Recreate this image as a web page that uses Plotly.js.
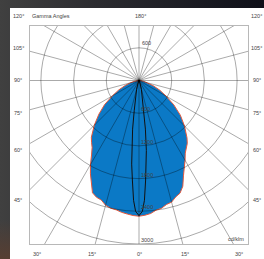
<!DOCTYPE html>
<html><head><meta charset="utf-8">
<script src="https://cdn.plot.ly/plotly-3.0.1.min.js"></script>
<style>
html,body{margin:0;padding:0;width:264px;height:259px;overflow:hidden;
  background:linear-gradient(180deg,rgba(0,0,0,0) 0%,rgba(0,0,0,0) 85%,rgba(90,62,48,0.9) 100%),linear-gradient(90deg,#404040 0%,#2c2c30 35%,#0f1019 100%);}
#chart{position:absolute;left:10px;top:8px;width:254px;height:251px;background:#fff;}
</style></head><body><div id="chart"></div>
<script>
// Gamma angles (deg, 0 = straight down, negative = left half) and intensity (cd/klm)
const gammaMain = [-90,-85,-80,-75,-70,-65,-60,-55,-50,-45,-40,-37.5,-35,-32.5,-30,-27.5,-25,-22.5,-20,-17.5,-15,-12.5,-10,-7.5,-5,-2.5,0,
  2.5,5,7.5,10,12.5,15,17.5,20,22.5,25,27.5,30,32.5,35,37.5,40,45,50,55,60,65,70,75,80,85,90];
const intensityMain = [0,30,80,160,270,410,565,770,960,1160,1360,1430,1500,1620,1780,1930,2060,2230,2280,2300,2370,2400,2410,2440,2460,2480,2490,
  2475,2450,2400,2380,2330,2310,2240,2200,2100,1930,1810,1690,1580,1510,1455,1370,1180,990,780,575,420,275,165,85,30,0];
const gammaNarrow = [-90,-45,-30,-20,-15,-12,-9,-7.5,-6,-5,-3.8,-2.6,-1.5,0,1.5,2.6,3.8,5,6,7.5,9,12,15,20,30,45,90];
const intensityNarrow = [0,0,15,70,170,300,560,900,1290,1540,1830,2200,2400,2480,2400,2200,1830,1540,1290,900,560,300,170,70,15,0,0];
const ringValues = [600,1200,1800,2400,3000];
const ringLabels = ['600','1200','1800','2400','3000'];
const topRingValue = 600;
const spokeAngles = [0,15,30,45,60,75,90,105,120,135,150,165,180,195,210,225,240,255,270,285,300,315,330,345];
const sideLabels = ['120°','105°','90°','75°','60°','45°'];
const bottomLabels = ['30°','15°','0°','15°','30°'];
const titleText = 'Gamma Angles';
const topLabel = '180°';
const unitLabel = 'cd/klm';

// layout positions (paper coords)
const sideY = [1.046,0.899,0.752,0.603,0.433,0.202];
const bottomX = [0.032,0.284,0.5,0.711,0.959];

const rad = d => d*Math.PI/180;
const toXY = (g, I) => ({x: g.map((a,i)=>I[i]*Math.sin(rad(a))), y: g.map((a,i)=>-I[i]*Math.cos(rad(a)))});

const main = toXY(gammaMain, intensityMain);
const narrow = toXY(gammaNarrow, intensityNarrow);

const traces = [
  {x: main.x, y: main.y, mode:'lines', fill:'toself', fillcolor:'#0b79c6',
   line:{color:'#e4583c', width:1}, hoverinfo:'skip', showlegend:false},
  {x: narrow.x, y: narrow.y, mode:'lines', line:{color:'#111', width:1}, hoverinfo:'skip', showlegend:false}
];

const gridColor = 'rgba(0,0,0,0.42)';
const shapes = [];
ringValues.forEach(r => shapes.push({type:'circle', xref:'x', yref:'y', x0:-r, x1:r, y0:-r, y1:r,
  line:{color:gridColor, width:0.8}, layer:'above'}));
spokeAngles.forEach(a => shapes.push({type:'line', xref:'x', yref:'y', x0:0, y0:0,
  x1:6000*Math.sin(rad(a)), y1:-6000*Math.cos(rad(a)), line:{color:gridColor, width:0.8}, layer:'above'}));

const fnt = {family:'Liberation Sans, Arial, sans-serif', size:5.5, color:'#444'};
const ann = [];
ringValues.forEach((r,i) => ann.push({xref:'x', yref:'y', x:0, y:-r, text:ringLabels[i], showarrow:false,
  xanchor:'left', yanchor:'bottom', xshift:0, yshift:-1, font:fnt}));
ann.push({xref:'x', yref:'y', x:0, y:topRingValue, text:String(topRingValue), showarrow:false,
  xanchor:'left', yanchor:'bottom', xshift:1, font:fnt});
sideLabels.forEach((t,i) => {
  ann.push({xref:'paper', yref:'paper', x:-0.055, y:sideY[i], text:t, showarrow:false, xanchor:'center', yanchor:'middle', font:fnt});
  ann.push({xref:'paper', yref:'paper', x:1.04, y:sideY[i], text:t, showarrow:false, xanchor:'center', yanchor:'middle', font:fnt});
});
bottomLabels.forEach((t,i) => ann.push({xref:'paper', yref:'paper', x:bottomX[i], y:-0.046, text:t, showarrow:false,
  xanchor:'center', yanchor:'middle', font:fnt}));
ann.push({xref:'paper', yref:'paper', x:0, y:1.046, text:titleText, showarrow:false, xanchor:'left', yanchor:'middle', font:fnt});
ann.push({xref:'paper', yref:'paper', x:0.505, y:1.046, text:topLabel, showarrow:false, xanchor:'center', yanchor:'middle', font:fnt});
ann.push({xref:'paper', yref:'paper', x:0.993, y:0.025, text:unitLabel, showarrow:false, xanchor:'right', yanchor:'middle', font:fnt});

const axis = {showgrid:false, zeroline:false, showticklabels:false, ticks:'', showline:true, mirror:true,
  linecolor:'#b8b8b8', linewidth:1, fixedrange:true};
const layout = {
  width:254, height:251, margin:{l:20, r:16, t:18, b:15},
  paper_bgcolor:'#ffffff', plot_bgcolor:'#ffffff',
  xaxis: Object.assign({range:[-2000,2000]}, axis),
  yaxis: Object.assign({range:[-3000,1000]}, axis),
  shapes: shapes, annotations: ann, showlegend:false
};
Plotly.newPlot('chart', traces, layout, {staticPlot:true, displayModeBar:false});
</script></body></html>
